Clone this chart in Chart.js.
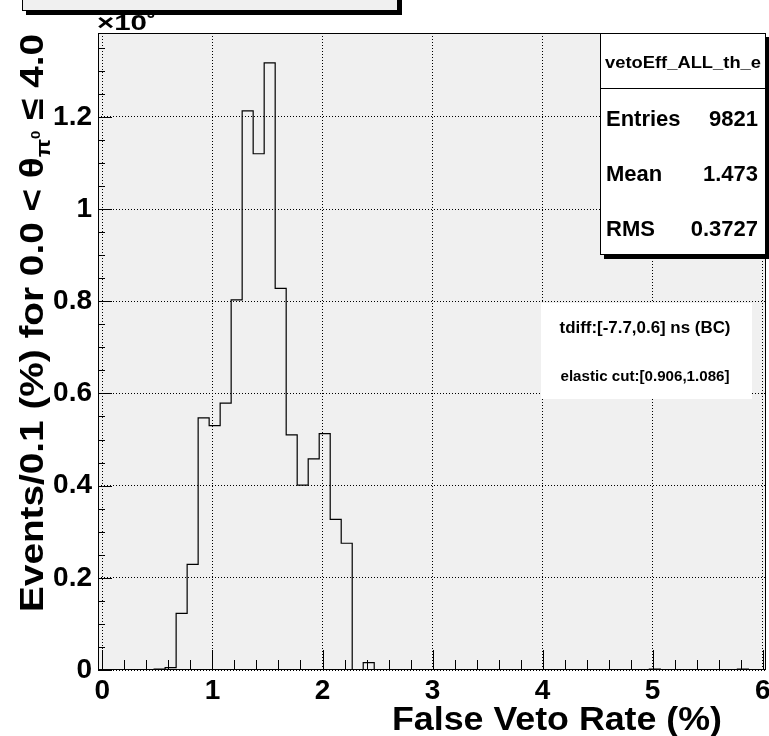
<!DOCTYPE html>
<html>
<head>
<meta charset="utf-8">
<title>vetoEff_ALL_th_e</title>
<script src="https://cdn.jsdelivr.net/npm/chart.js@4.4.1/dist/chart.umd.min.js"></script>
<style>
  html, body { margin: 0; padding: 0; background: #ffffff; }
  canvas { display: block; }
</style>
</head>
<body>
<canvas id="histChart" width="769" height="736"></canvas>
<script>
// histogram bins (false veto rate in %, 0.1 wide), counts in units of 10^3 events
const binCenters = [0.52, 0.62, 0.72, 0.82, 0.92, 1.02, 1.12, 1.22, 1.32, 1.42, 1.52,
                    1.62, 1.72, 1.82, 1.92, 2.02, 2.12, 2.22, 2.42, 5.02, 5.82];
const binCounts = [0.002, 0.005, 0.123, 0.229, 0.547, 0.530, 0.579, 0.803, 1.213, 1.120, 1.317,
                   0.828, 0.510, 0.401, 0.458, 0.513, 0.327, 0.275, 0.016, 0.002, 0.002];
const binWidth = 0.1;

const xTicks = [0, 1, 2, 3, 4, 5, 6];
const xTickLabels = ['0', '1', '2', '3', '4', '5', '6'];
const yTicks = [0, 0.2, 0.4, 0.6, 0.8, 1, 1.2];
const yTickLabels = ['0', '0.2', '0.4', '0.6', '0.8', '1', '1.2'];

const statsTitle = 'vetoEff_ALL_th_e';
const statsRows = [['Entries', '9821'], ['Mean', '1.473'], ['RMS', '0.3727']];
const cutLines = ['tdiff:[-7.7,0.6] ns (BC)', 'elastic cut:[0.906,1.086]'];

const FONT = "'Liberation Sans', Arial, Helvetica, sans-serif";
const FRAME_FILL = '#f0f0f0';

// step outline of the histogram built from the bins
const outline = [];
binCenters.forEach((c, i) => {
    const lo = +(c - binWidth / 2).toFixed(3);
    const hi = +(c + binWidth / 2).toFixed(3);
    if (i === 0) {
        outline.push({x: lo, y: 0});
    } else {
        const prevHi = +(binCenters[i - 1] + binWidth / 2).toFixed(3);
        if (Math.abs(prevHi - lo) > 1e-6) {
            outline.push({x: prevHi, y: 0});
            outline.push({x: lo, y: 0});
        }
    }
    outline.push({x: lo, y: binCounts[i]});
    outline.push({x: hi, y: binCounts[i]});
});
outline.push({x: outline[outline.length - 1].x, y: 0});

function fitText(ctx, text, x, y, size, width, align) {
    ctx.save();
    ctx.font = `bold ${size}px ${FONT}`;
    const w = ctx.measureText(text).width;
    ctx.translate(x, y);
    ctx.scale(width ? width / w : 1, 1);
    ctx.textAlign = align || 'left';
    ctx.textBaseline = 'alphabetic';
    ctx.fillStyle = '#000';
    ctx.fillText(text, 0, 0);
    ctx.restore();
}

// text made of pieces (sub/superscripts), centred on x,y, optionally rotated
function drawRuns(ctx, runs, x, y, angle, length) {
    let total = 0;
    runs.forEach(r => {
        ctx.font = `bold ${r.size}px ${FONT}`;
        r.w = ctx.measureText(r.text).width;
        total += r.w;
    });
    ctx.save();
    ctx.translate(x, y);
    ctx.rotate(angle);
    ctx.scale(length / total, 1);
    ctx.textAlign = 'left';
    ctx.textBaseline = 'alphabetic';
    ctx.fillStyle = '#000';
    let cx = -total / 2;
    runs.forEach(r => {
        ctx.font = `bold ${r.size}px ${FONT}`;
        ctx.fillText(r.text, cx, r.dy);
        cx += r.w;
    });
    ctx.restore();
}

function shadowBox(ctx, x, y, w, h, fill, shadow) {
    ctx.save();
    if (shadow) {
        ctx.fillStyle = '#000';
        ctx.fillRect(x + shadow, y + shadow, w, h);
    }
    ctx.fillStyle = fill;
    ctx.fillRect(x, y, w, h);
    if (shadow) {
        ctx.strokeStyle = '#000';
        ctx.lineWidth = 1;
        ctx.strokeRect(x + 0.5, y + 0.5, w - 1, h - 1);
    }
    ctx.restore();
}

const rootStyle = {
    id: 'rootStyle',
    beforeDraw(chart) {
        const {ctx, chartArea: a} = chart;
        ctx.save();
        ctx.fillStyle = FRAME_FILL;
        ctx.fillRect(a.left, a.top, a.right - a.left, a.bottom - a.top);
        ctx.restore();
    },
    afterDraw(chart) {
        const {ctx, chartArea: a} = chart;
        const xs = chart.scales.x, ys = chart.scales.y;

        ctx.save();
        // frame
        ctx.strokeStyle = '#000';
        ctx.lineWidth = 1;
        ctx.strokeRect(a.left + 0.5, a.top + 0.5, a.right - a.left - 1, a.bottom - a.top - 1);

        // tick marks
        ctx.beginPath();
        for (let v = 0; v <= 6.001; v += 0.2) {
            const px = Math.round(xs.getPixelForValue(v)) + 0.5;
            const major = Math.abs(v - Math.round(v)) < 1e-6;
            ctx.moveTo(px, a.bottom);
            ctx.lineTo(px, a.bottom - (major ? 20 : 10));
        }
        for (let v = 0; v <= ys.max; v += 0.05) {
            const py = Math.round(ys.getPixelForValue(v)) + 0.5;
            const major = Math.abs(v / 0.2 - Math.round(v / 0.2)) < 1e-6;
            ctx.moveTo(a.left, py);
            ctx.lineTo(a.left + (major ? 14 : 7), py);
        }
        ctx.stroke();
        ctx.restore();

        // cut description pave
        shadowBox(ctx, 541, 303, 211, 96, '#ffffff', 0);
        fitText(ctx, cutLines[0], 645, 333, 17, 171, 'center');
        fitText(ctx, cutLines[1], 645, 381, 15, 169, 'center');

        // statistics box
        shadowBox(ctx, 600, a.top, a.right - 600, 222, '#ffffff', 4);
        ctx.save();
        ctx.strokeStyle = '#000';
        ctx.beginPath();
        ctx.moveTo(600, 88.5);
        ctx.lineTo(a.right, 88.5);
        ctx.stroke();
        ctx.restore();
        fitText(ctx, statsTitle, 683, 68, 17, 156, 'center');
        statsRows.forEach((row, i) => {
            const base = 126 + i * 55;
            fitText(ctx, row[0], 606, base, 22, 0, 'left');
            fitText(ctx, row[1], 758, base, 22, 0, 'right');
        });

        // axis titles
        fitText(ctx, 'False Veto Rate (%)', 722, 730, 34, 330, 'right');
        drawRuns(ctx, [
            {text: 'Events/0.1 (%) for 0.0 < θ', size: 34, dy: 0},
            {text: 'π', size: 21, dy: 7},
            {text: '0', size: 13, dy: -3},
            {text: ' ≤ 4.0', size: 34, dy: 0}
        ], 43, 323, -Math.PI / 2, 578);

        // axis multiplier, exponent partly hidden under the title box
        fitText(ctx, '×10', 97, 30, 22, 50, 'left');
        fitText(ctx, '3', 147, 18, 14, 0, 'left');

        // title box (cut off at the top of the canvas)
        shadowBox(ctx, 22, -10, 376, 21, FRAME_FILL, 4);
    }
};

const ctx = document.getElementById('histChart').getContext('2d');
new Chart(ctx, {
    type: 'line',
    data: {
        datasets: [{
            data: outline,
            borderColor: '#000000',
            borderWidth: 1.2,
            pointRadius: 0,
            tension: 0,
            fill: false
        }]
    },
    options: {
        responsive: false,
        animation: false,
        devicePixelRatio: 1,
        events: [],
        layout: {padding: {left: 0, top: 33, right: 3, bottom: 0}},
        plugins: {legend: {display: false}, tooltip: {enabled: false}},
        scales: {
            x: {
                type: 'linear',
                min: -0.04,
                max: 6.03,
                afterBuildTicks: s => { s.ticks = xTicks.map(v => ({value: v})); },
                afterFit: s => { s.height = 66; s.paddingLeft = 0; s.paddingRight = 0; },
                ticks: {
                    callback: (v, i) => xTickLabels[i],
                    color: '#000',
                    font: {family: FONT, size: 28, weight: 'bold'},
                    padding: 4,
                    maxRotation: 0,
                    autoSkip: false
                },
                grid: {color: '#000', lineWidth: 1, drawTicks: false},
                border: {display: false, dash: [1, 2]}
            },
            y: {
                type: 'linear',
                min: 0,
                max: 1.382,
                afterBuildTicks: s => { s.ticks = yTicks.map(v => ({value: v})); },
                afterFit: s => { s.width = 98; s.paddingTop = 0; s.paddingBottom = 0; },
                ticks: {
                    callback: (v, i) => yTickLabels[i],
                    color: '#000',
                    font: {family: FONT, size: 28, weight: 'bold'},
                    padding: 6,
                    autoSkip: false
                },
                grid: {color: '#000', lineWidth: 1, drawTicks: false},
                border: {display: false, dash: [1, 2]}
            }
        }
    },
    plugins: [rootStyle]
});
</script>
</body>
</html>
